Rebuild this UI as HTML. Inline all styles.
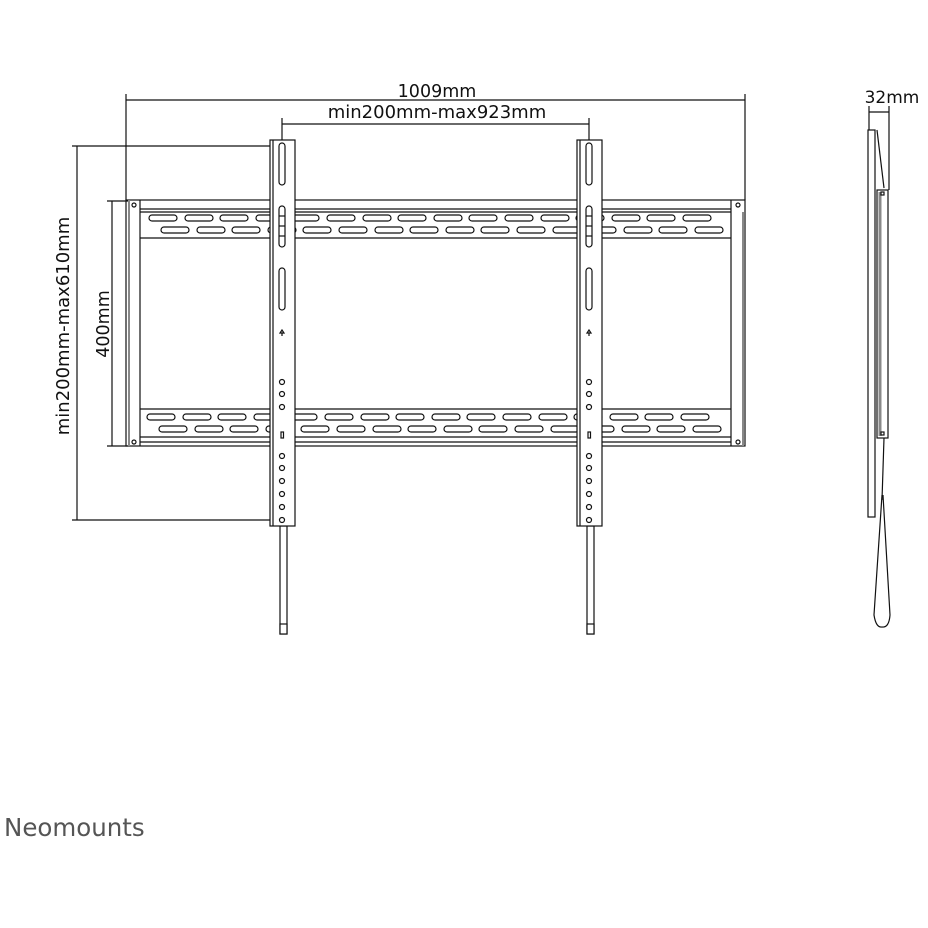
<!DOCTYPE html>
<html><head><meta charset="utf-8"><style>
html,body{margin:0;padding:0;background:#fff;}
svg{display:block;}
text{font-family:"DejaVu Sans","Liberation Sans",sans-serif;fill:#111;}
</style></head><body>
<svg width="928" height="928" viewBox="0 0 928 928" xmlns="http://www.w3.org/2000/svg">
<g stroke="#111" stroke-width="1.2" fill="none">
<line x1="126" y1="100" x2="745" y2="100"/>
<line x1="126" y1="94" x2="126" y2="200"/>
<line x1="745" y1="94" x2="745" y2="200"/>
<line x1="282" y1="124" x2="589" y2="124"/>
<line x1="282" y1="118" x2="282" y2="142"/>
<line x1="589" y1="118" x2="589" y2="142"/>
<line x1="77" y1="146" x2="77" y2="520"/>
<line x1="72" y1="146" x2="272" y2="146"/>
<line x1="72" y1="520" x2="272" y2="520"/>
<line x1="112" y1="201" x2="112" y2="446"/>
<line x1="107" y1="201" x2="128" y2="201"/>
<line x1="107" y1="446" x2="128" y2="446"/>
<rect x="126" y="200" width="619" height="246"/>
<line x1="140" y1="200" x2="140" y2="446"/>
<line x1="731" y1="200" x2="731" y2="446"/>
<line x1="129" y1="200" x2="129" y2="446" stroke="#888" stroke-width="2"/>
<line x1="743" y1="212" x2="743" y2="446" stroke="#888" stroke-width="2"/>
<circle cx="134" cy="205" r="2"/><circle cx="134" cy="442" r="2"/>
<circle cx="738" cy="205" r="2"/><circle cx="738" cy="442" r="2"/>
<line x1="140" y1="209" x2="731" y2="209"/>
<line x1="140" y1="212" x2="731" y2="212"/>
<line x1="140" y1="238" x2="731" y2="238"/>
<line x1="140" y1="409" x2="731" y2="409"/>
<line x1="140" y1="437" x2="731" y2="437"/>
<line x1="140" y1="442" x2="731" y2="442"/>
</g>
<g stroke="#111" stroke-width="1.2" fill="none">
<rect x="149" y="215" width="28" height="6" rx="3"/><rect x="185" y="215" width="28" height="6" rx="3"/><rect x="220" y="215" width="28" height="6" rx="3"/><rect x="256" y="215" width="28" height="6" rx="3"/><rect x="291" y="215" width="28" height="6" rx="3"/><rect x="327" y="215" width="28" height="6" rx="3"/><rect x="363" y="215" width="28" height="6" rx="3"/><rect x="398" y="215" width="28" height="6" rx="3"/><rect x="434" y="215" width="28" height="6" rx="3"/><rect x="469" y="215" width="28" height="6" rx="3"/><rect x="505" y="215" width="28" height="6" rx="3"/><rect x="541" y="215" width="28" height="6" rx="3"/><rect x="576" y="215" width="28" height="6" rx="3"/><rect x="612" y="215" width="28" height="6" rx="3"/><rect x="647" y="215" width="28" height="6" rx="3"/><rect x="683" y="215" width="28" height="6" rx="3"/>
<rect x="161" y="227" width="28" height="6" rx="3"/><rect x="197" y="227" width="28" height="6" rx="3"/><rect x="232" y="227" width="28" height="6" rx="3"/><rect x="268" y="227" width="28" height="6" rx="3"/><rect x="303" y="227" width="28" height="6" rx="3"/><rect x="339" y="227" width="28" height="6" rx="3"/><rect x="375" y="227" width="28" height="6" rx="3"/><rect x="410" y="227" width="28" height="6" rx="3"/><rect x="446" y="227" width="28" height="6" rx="3"/><rect x="481" y="227" width="28" height="6" rx="3"/><rect x="517" y="227" width="28" height="6" rx="3"/><rect x="553" y="227" width="28" height="6" rx="3"/><rect x="588" y="227" width="28" height="6" rx="3"/><rect x="624" y="227" width="28" height="6" rx="3"/><rect x="659" y="227" width="28" height="6" rx="3"/><rect x="695" y="227" width="28" height="6" rx="3"/>
<rect x="147" y="414" width="28" height="6" rx="3"/><rect x="183" y="414" width="28" height="6" rx="3"/><rect x="218" y="414" width="28" height="6" rx="3"/><rect x="254" y="414" width="28" height="6" rx="3"/><rect x="289" y="414" width="28" height="6" rx="3"/><rect x="325" y="414" width="28" height="6" rx="3"/><rect x="361" y="414" width="28" height="6" rx="3"/><rect x="396" y="414" width="28" height="6" rx="3"/><rect x="432" y="414" width="28" height="6" rx="3"/><rect x="467" y="414" width="28" height="6" rx="3"/><rect x="503" y="414" width="28" height="6" rx="3"/><rect x="539" y="414" width="28" height="6" rx="3"/><rect x="574" y="414" width="28" height="6" rx="3"/><rect x="610" y="414" width="28" height="6" rx="3"/><rect x="645" y="414" width="28" height="6" rx="3"/><rect x="681" y="414" width="28" height="6" rx="3"/>
<rect x="159" y="426" width="28" height="6" rx="3"/><rect x="195" y="426" width="28" height="6" rx="3"/><rect x="230" y="426" width="28" height="6" rx="3"/><rect x="266" y="426" width="28" height="6" rx="3"/><rect x="301" y="426" width="28" height="6" rx="3"/><rect x="337" y="426" width="28" height="6" rx="3"/><rect x="373" y="426" width="28" height="6" rx="3"/><rect x="408" y="426" width="28" height="6" rx="3"/><rect x="444" y="426" width="28" height="6" rx="3"/><rect x="479" y="426" width="28" height="6" rx="3"/><rect x="515" y="426" width="28" height="6" rx="3"/><rect x="551" y="426" width="28" height="6" rx="3"/><rect x="586" y="426" width="28" height="6" rx="3"/><rect x="622" y="426" width="28" height="6" rx="3"/><rect x="657" y="426" width="28" height="6" rx="3"/><rect x="693" y="426" width="28" height="6" rx="3"/>
</g>
<g stroke="#111" stroke-width="1.2" fill="#fff">
<g id="br">
<rect x="280" y="526" width="7" height="108"/>
<rect x="280" y="624" width="7" height="10"/>
<rect x="270" y="140" width="25" height="386"/>
<line x1="273" y1="140" x2="273" y2="526" fill="none"/>
<rect x="279" y="143" width="6" height="42" rx="3"/>
<rect x="279" y="206" width="6" height="41" rx="3"/>
<line x1="279" y1="216" x2="285" y2="216"/><line x1="279" y1="226" x2="285" y2="226"/><line x1="279" y1="236" x2="285" y2="236"/>
<rect x="279" y="268" width="6" height="42" rx="3"/>
<path d="M282 330 l-2 3 h4 z M282 333 v3" fill="none"/>
<circle cx="282" cy="382" r="2.5"/><circle cx="282" cy="394" r="2.5"/><circle cx="282" cy="407" r="2.5"/>
<rect x="281" y="432" width="2.5" height="6"/>
<circle cx="282" cy="456" r="2.5"/><circle cx="282" cy="468" r="2.5"/><circle cx="282" cy="481" r="2.5"/><circle cx="282" cy="494" r="2.5"/><circle cx="282" cy="507" r="2.5"/><circle cx="282" cy="520" r="2.5"/>
</g>
<use href="#br" transform="translate(307,0)"/>
</g>
<g stroke="#111" stroke-width="1.2" fill="none">
<line x1="869" y1="112" x2="889" y2="112"/>
<line x1="869" y1="106" x2="869" y2="130"/>
<line x1="889" y1="106" x2="889" y2="190"/>
<rect x="868" y="130" width="7" height="387"/>
<line x1="877" y1="130" x2="884" y2="188"/>
<rect x="877" y="190" width="11" height="248"/>
<line x1="880" y1="192" x2="880" y2="436" stroke="#888" stroke-width="3"/>
<rect x="881" y="192" width="3" height="3"/><rect x="881" y="432" width="3" height="3"/>
<line x1="884" y1="438" x2="882" y2="500"/>
<path d="M882 495 L874 615 Q876 628 882 627 Q889 628 890 615 L883 495"/>
</g>
<text x="437" y="97" font-size="17.5" text-anchor="middle">1009mm</text>
<text x="437" y="118" font-size="18" text-anchor="middle">min200mm-max923mm</text>
<text x="892" y="103" font-size="17" text-anchor="middle">32mm</text>
<text transform="translate(69,326) rotate(-90)" font-size="18" text-anchor="middle">min200mm-max610mm</text>
<text transform="translate(109,324) rotate(-90)" font-size="17.5" text-anchor="middle">400mm</text>
<text x="4" y="836" font-size="24.5" style="fill:#555">Neomounts</text>
</svg>
</body></html>
